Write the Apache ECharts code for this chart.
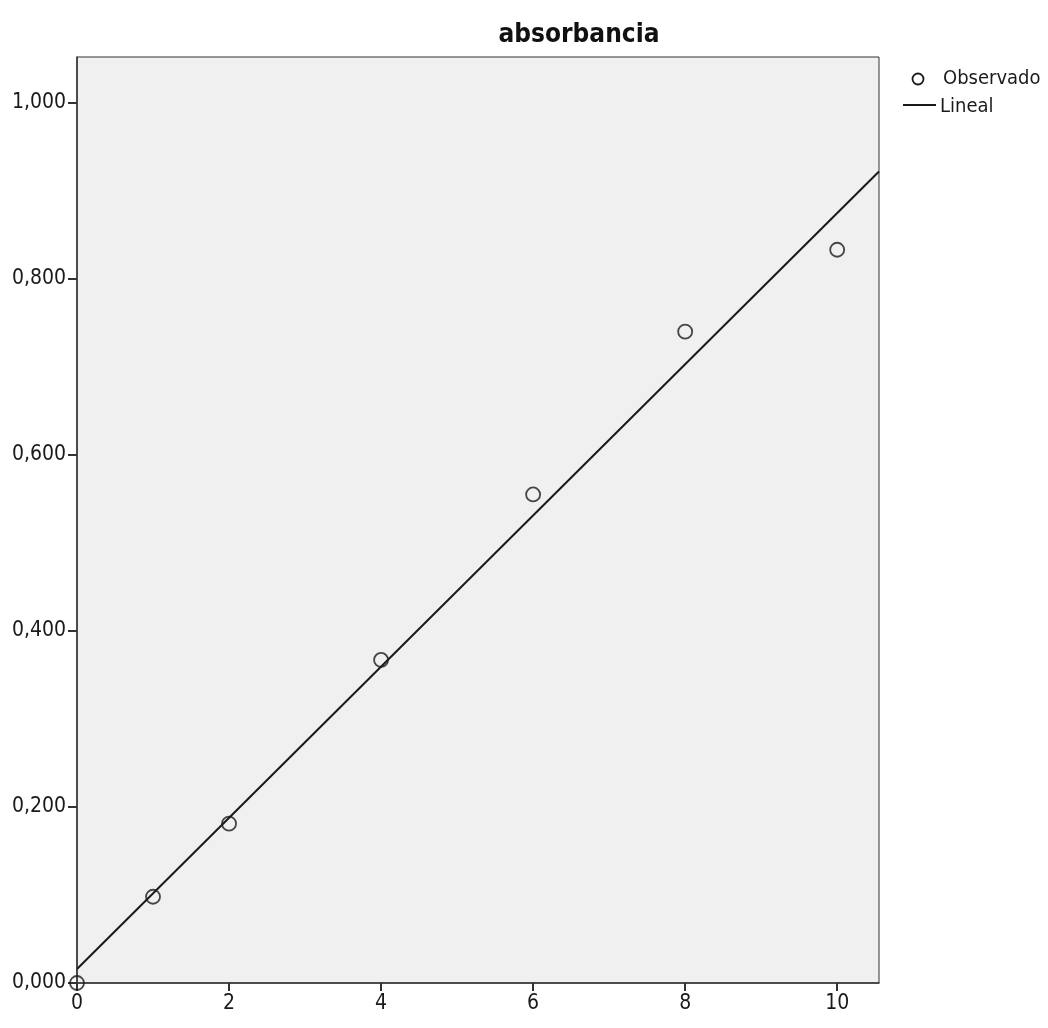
<!DOCTYPE html>
<html>
<head>
<meta charset="utf-8">
<script src="https://cdn.jsdelivr.net/npm/echarts@6/dist/echarts.min.js"></script>
<style>
html,body{margin:0;padding:0;background:#fff;}
#chart{width:1048px;height:1028px;}
</style>
</head>
<body>
<div id="chart"></div>
<script>
// Observed points
var obsX = [0, 1, 2, 4, 6, 8, 10];
var obsY = [0.000, 0.098, 0.181, 0.367, 0.555, 0.740, 0.833];
// Linear fit line, endpoints
var fitX = [0, 10.55];
var fitY = [0.016, 0.922];
// Tick values
var xTicks = [0, 2, 4, 6, 8, 10];
var yTicks = [0, 0.2, 0.4, 0.6, 0.8, 1.0];
var titleText = 'absorbancia';
var seriesNames = ['Observado', 'Lineal'];

var FONT = '"Liberation Sans Narrow", "DejaVu Sans Condensed", "Liberation Sans", sans-serif';
var INK = '#1a1a1a';
var chart = echarts.init(document.getElementById('chart'), null, {renderer: 'canvas'});
chart.setOption({
  animation: false,
  backgroundColor: '#ffffff',
  title: {
    text: titleText,
    left: 574, top: 17, textAlign: 'center',
    textStyle: {fontFamily: FONT, fontSize: 26, fontWeight: 'bold', color: '#111'}
  },
  legend: {show: false, data: seriesNames},
  graphic: [
    {type: 'circle', shape: {cx: 918, cy: 79, r: 5.5}, style: {fill: 'none', stroke: INK, lineWidth: 1.8}},
    {type: 'text', x: 943, y: 79, style: {text: seriesNames[0], fill: INK, font: '20px ' + FONT, textVerticalAlign: 'middle', verticalAlign: 'middle'}},
    {type: 'line', shape: {x1: 903, y1: 105, x2: 936, y2: 105}, style: {stroke: INK, lineWidth: 2}},
    {type: 'text', x: 940, y: 107, style: {text: seriesNames[1], fill: INK, font: '20px ' + FONT, textVerticalAlign: 'middle', verticalAlign: 'middle'}}
  ],
  grid: {
    left: 77, top: 57, right: 169, bottom: 45,
    show: true, backgroundColor: '#f0f0f0', borderColor: '#333', borderWidth: 1
  },
  xAxis: {
    type: 'value', min: 0, max: 10.55,
    splitLine: {show: false},
    axisLine: {show: true, onZero: false, lineStyle: {color: '#333', width: 1.5}},
    axisTick: {show: true, length: 8, customValues: xTicks, lineStyle: {color: '#333', width: 2}},
    axisLabel: {
      customValues: xTicks, margin: 10,
      fontFamily: FONT, fontSize: 21, color: INK,
      formatter: function (v) { return String(v); }
    }
  },
  yAxis: {
    type: 'value', min: 0, max: 1.052,
    splitLine: {show: false},
    axisLine: {show: true, onZero: false, lineStyle: {color: '#333', width: 1.5}},
    axisTick: {show: true, length: 9, customValues: yTicks, lineStyle: {color: '#333', width: 2}},
    axisLabel: {
      customValues: yTicks, margin: 11, padding: [5, 0, 0, 0],
      fontFamily: FONT, fontSize: 21, color: INK,
      formatter: function (v) { return v.toFixed(3).replace('.', ','); }
    }
  },
  series: [
    {
      name: seriesNames[0], type: 'scatter', symbol: 'circle', symbolSize: 14,
      clip: true, z: 3,
      itemStyle: {color: 'rgba(0,0,0,0)', borderColor: INK, borderWidth: 1.8},
      data: obsX.map(function (x, i) { return [x, obsY[i]]; })
    },
    {
      name: seriesNames[1], type: 'line', symbol: 'none', clip: true, z: 2,
      lineStyle: {color: INK, width: 2},
      itemStyle: {color: INK},
      data: fitX.map(function (x, i) { return [x, fitY[i]]; })
    }
  ]
});
</script>
</body>
</html>
